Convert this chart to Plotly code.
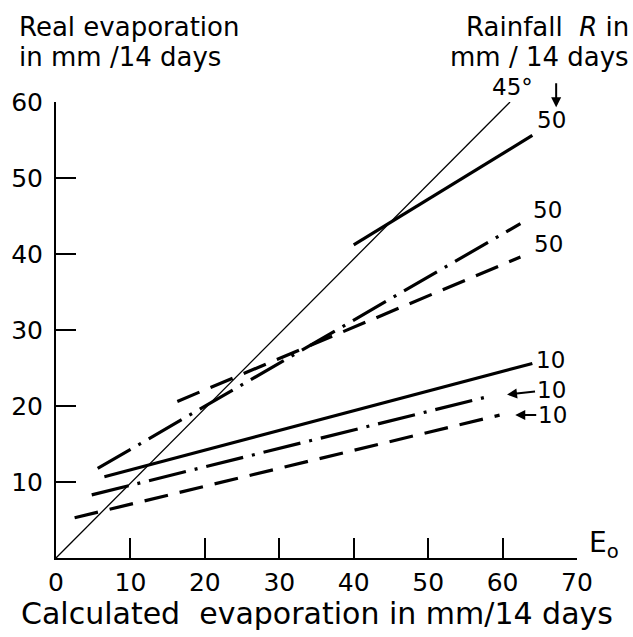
import plotly.graph_objects as go

# ---- data ----
line45_x = [0, 61]
line45_y = [0, 60]

r50_solid_x = [40.0, 64.0]
r50_solid_y = [41.2, 55.6]
r50_dashdot_x = [5.6, 62.4]
r50_dashdot_y = [11.8, 44.0]
r50_dash_x = [16.3, 62.4]
r50_dash_y = [20.6, 39.6]

r10_solid_x = [6.5, 64.0]
r10_solid_y = [10.7, 25.6]
r10_dashdot_x = [4.8, 58.3]
r10_dashdot_y = [8.3, 21.3]
r10_dash_x = [2.5, 59.6]
r10_dash_y = [5.3, 18.8]

x_ticks = [0, 10, 20, 30, 40, 50, 60, 70]
y_ticks = [10, 20, 30, 40, 50, 60]

FONT = "DejaVu Sans"
NUMFONT = "DejaVu Sans"
BLACK = "#000000"
DASH = "24px,12px"
DASHDOT = "38px,9px,3px,9px"

fig = go.Figure()

def add_line(x, y, width, dash="solid"):
    fig.add_trace(go.Scatter(x=x, y=y, mode="lines",
                             line=dict(color=BLACK, width=width, dash=dash),
                             hoverinfo="skip", showlegend=False))

add_line(line45_x, line45_y, 1.3)
add_line(r50_solid_x, r50_solid_y, 3.2)
add_line(r50_dashdot_x, r50_dashdot_y, 3.2, DASHDOT)
add_line(r50_dash_x, r50_dash_y, 3.2, DASH)
add_line(r10_solid_x, r10_solid_y, 3.2)
add_line(r10_dashdot_x, r10_dashdot_y, 3.2, DASHDOT)
add_line(r10_dash_x, r10_dash_y, 3.2, DASH)

lab_font = dict(family=NUMFONT, size=23, color=BLACK)
arrow = dict(showarrow=True, arrowhead=2, arrowsize=1, arrowwidth=2,
             arrowcolor=BLACK)
ann = []
ann.append(dict(x=61.3, y=60, yshift=15, text="45°", showarrow=False,
                font=lab_font))
ann.append(dict(x=66.6, y=57.6, text="50", showarrow=False, font=lab_font))
ann.append(dict(x=67.2, y=59.3, ax=0, ay=-34, text=" ", **arrow))
ann.append(dict(x=66.1, y=45.8, text="50", showarrow=False, font=lab_font))
ann.append(dict(x=66.2, y=41.3, text="50", showarrow=False, font=lab_font))
ann.append(dict(x=66.5, y=26.0, text="10", showarrow=False, font=lab_font))
ann.append(dict(x=60.6, y=21.5, ax=44, ay=-5, text="10", font=lab_font,
                **arrow))
ann.append(dict(x=61.7, y=18.8, ax=37, ay=0, text="10", font=lab_font,
                **arrow))

title_font = dict(family=FONT, size=26, color=BLACK)
ann.append(dict(xref="paper", yref="paper", x=-0.074, y=1.0, yshift=75,
                xanchor="left", yanchor="middle", align="left",
                text="Real evaporation", showarrow=False, font=title_font))
ann.append(dict(xref="paper", yref="paper", x=-0.074, y=1.0, yshift=45,
                xanchor="left", yanchor="middle", align="left",
                text="in mm /14 days", showarrow=False, font=title_font))
ann.append(dict(xref="paper", yref="paper", x=1.103, y=1.0, yshift=75,
                xanchor="right", yanchor="middle", align="right",
                text="Rainfall  <i>R</i> in", showarrow=False, font=title_font))
ann.append(dict(xref="paper", yref="paper", x=1.103, y=1.0, yshift=45,
                xanchor="right", yanchor="middle", align="right",
                text="mm / 14 days", showarrow=False, font=title_font))
ann.append(dict(xref="paper", yref="paper", x=0.5, y=0, yshift=-55,
                xanchor="center", yanchor="middle",
                text="Calculated  evaporation in mm/14 days", showarrow=False,
                font=dict(family=FONT, size=30, color=BLACK)))
ann.append(dict(xref="paper", yref="paper", x=1.0, y=0, xshift=10, yshift=14,
                xanchor="left", yanchor="middle",
                text="E<sub>o</sub>", showarrow=False,
                font=dict(family=FONT, size=28, color=BLACK)))

axis_common = dict(showline=True, linecolor=BLACK, linewidth=2,
                   ticks="inside", ticklen=20, tickwidth=2, tickcolor=BLACK,
                   showgrid=False, zeroline=False,
                   tickfont=dict(family=NUMFONT, size=25, color=BLACK),
                   fixedrange=True)

fig.update_layout(
    width=633, height=637,
    margin=dict(l=56, r=56, t=102, b=79),
    paper_bgcolor="white", plot_bgcolor="white",
    xaxis=dict(range=[0, 70], tickmode="array", tickvals=x_ticks,
               ticktext=[str(v) for v in x_ticks], ticklabelstandoff=1,
               **axis_common),
    yaxis=dict(range=[0, 60], tickmode="array", tickvals=y_ticks,
               ticktext=[str(v) for v in y_ticks], ticklabelstandoff=6,
               **axis_common),
    annotations=ann,
)

fig.write_html("out.html")
